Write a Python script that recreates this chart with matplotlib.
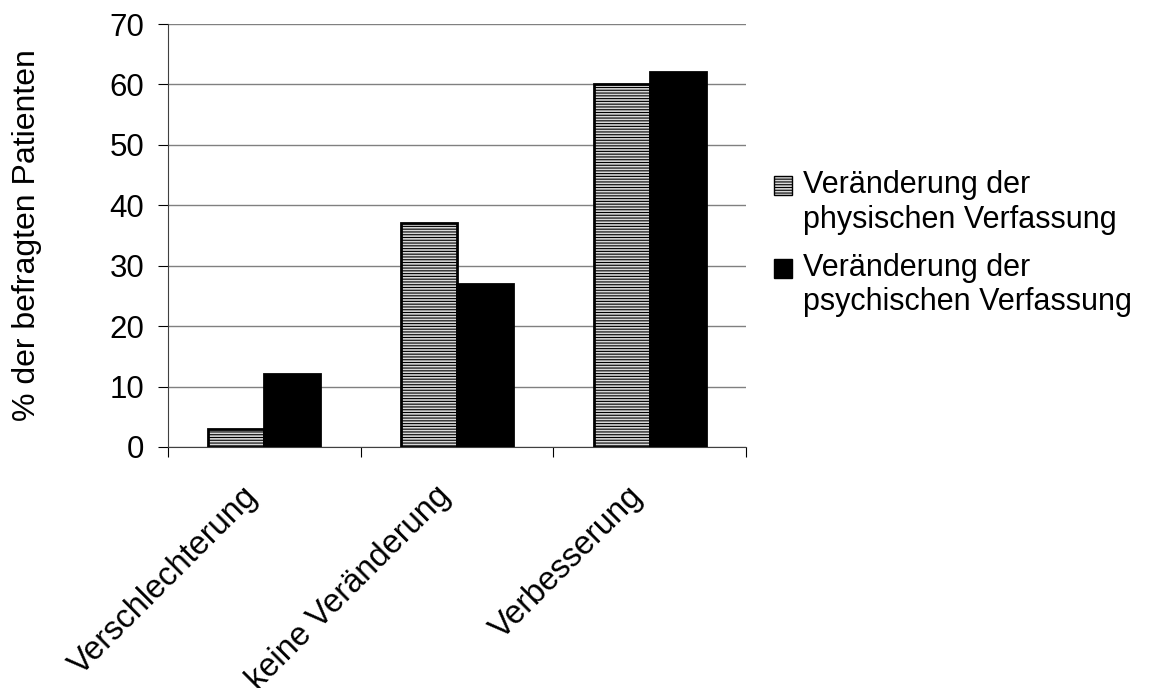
import numpy as np
import matplotlib.pyplot as plt
from matplotlib.patches import Rectangle
from matplotlib.container import BarContainer
from matplotlib.legend_handler import HandlerPatch

plt.rcParams['font.family'] = ['Liberation Sans', 'DejaVu Sans']
plt.rcParams['hatch.linewidth'] = 0.8
plt.rcParams['hatch.color'] = '#7a7a7a'

categories = ['Verschlechterung', 'keine Veränderung', 'Verbesserung']
physisch = [3, 37, 60]
psychisch = [12, 27, 62]
series_names = ['Veränderung der\nphysischen Verfassung',
                'Veränderung der\npsychischen Verfassung']

fig = plt.figure(figsize=(11.57, 6.88), dpi=100)
ax = fig.add_axes([0.1452, 0.3503, 0.4996, 0.6148])

x = np.arange(len(categories))
w = 0.29
ax.bar(x - w / 2, physisch, w, facecolor='#d8d8d8', edgecolor='black',
       linewidth=2, hatch='------', label=series_names[0], zorder=3)
ax.bar(x + w / 2, psychisch, w, facecolor='black', edgecolor='black',
       linewidth=2, label=series_names[1], zorder=3)

ax.set_xlim(-0.5, 2.5)
ax.set_ylim(0, 70)
ax.set_yticks(range(0, 71, 10))
ax.yaxis.grid(True, color='#808080', linewidth=1)
ax.set_axisbelow(True)
for s in ['top', 'right']:
    ax.spines[s].set_visible(False)
ax.spines['left'].set_color('#404040')
ax.spines['bottom'].set_color('#404040')

ax.set_xticks([-0.5, 0.5, 1.5, 2.5])
ax.set_xticklabels([])
ax.set_xticks(x, minor=True)
ax.set_xticklabels(categories, minor=True, rotation=45, ha='right',
                   va='top', fontsize=23.5)
ax.tick_params(axis='x', which='minor', length=0, pad=24)
ax.tick_params(axis='x', which='major', length=7, direction='out')
ax.tick_params(axis='y', labelsize=22.5, length=7, pad=10)

ax.set_ylabel('% der befragten Patienten', fontsize=23)
ax.yaxis.set_label_coords(-0.218, 0.5)


# legend box sits next to the first line of the two-line label
def top_box(legend, orig_handle, xdescent, ydescent, width, height, fontsize):
    return Rectangle((-xdescent, -ydescent + 12.5), width, height)


def first_child(legend_handle, orig_handle):
    legend_handle.update_from(orig_handle[0])
    legend_handle.set_linewidth(1)


ax.legend(loc='upper left', bbox_to_anchor=(1.0, 0.72), frameon=False,
          fontsize=22, handlelength=0.6, handleheight=0.6,
          handletextpad=0.35, labelspacing=0.6,
          handler_map={BarContainer: HandlerPatch(patch_func=top_box,
                                                  update_func=first_child)})

fig.savefig('out.png', dpi=100)
